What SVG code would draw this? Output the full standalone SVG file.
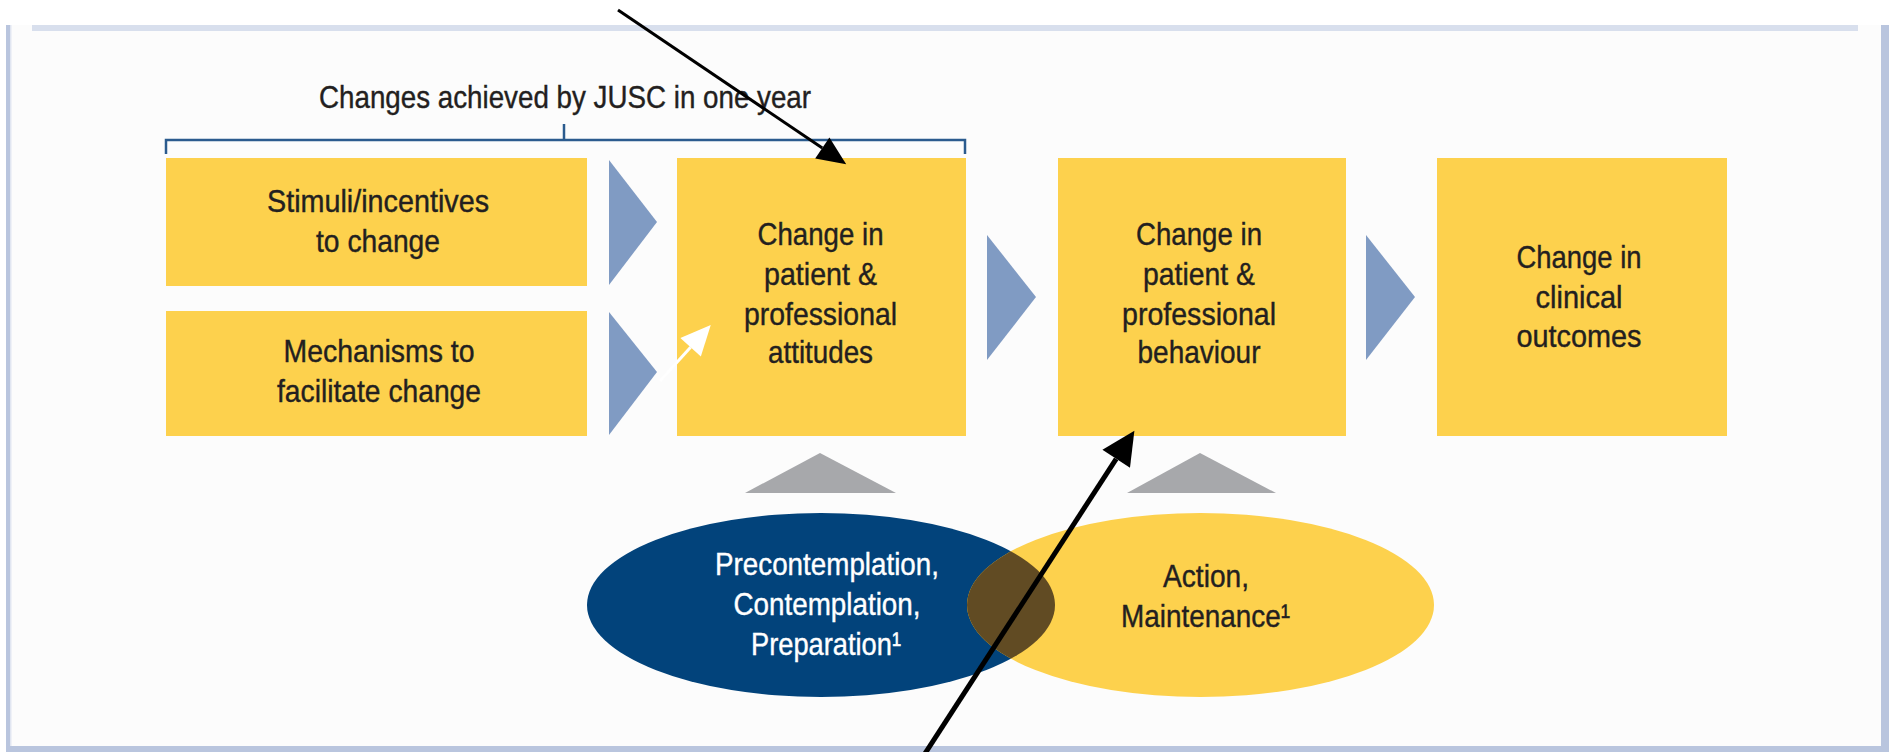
<svg xmlns="http://www.w3.org/2000/svg" width="1891" height="752" viewBox="0 0 1891 752">
  <style>
    .box { fill: #fdd14d; }
    .chev { fill: #809bc3; }
    .tri { fill: #a7a8ab; }
    .t { font-family: "Liberation Sans", Arial, sans-serif; font-size: 32px; fill: #231f20; stroke: #231f20; stroke-width: 0.4px; text-anchor: middle; }
    .tw { fill: #ffffff; stroke: #ffffff; }
    .ts { text-anchor: start; }
    .band { fill: #b9c5de; }
  </style>
  <defs>
    <marker id="headBlack1" markerUnits="userSpaceOnUse" markerWidth="30" markerHeight="30" refX="0" refY="0" viewBox="0 -12 26 24" orient="auto" overflow="visible">
      <path d="M0,-11 L25,0 L0,11 Z" fill="#000"/>
    </marker>
    <marker id="headBlack2" markerUnits="userSpaceOnUse" markerWidth="34" markerHeight="34" refX="0" refY="0" viewBox="0 -15 30 30" orient="auto" overflow="visible">
      <path d="M0,-14.5 L29.5,0 L0,14.5 Z" fill="#000"/>
    </marker>
    <marker id="headWhite" markerUnits="userSpaceOnUse" markerWidth="30" markerHeight="30" refX="0" refY="0" viewBox="0 -12 26 24" orient="auto" overflow="visible">
      <path d="M0,-12 L26,0 L0,12 Z" fill="#fff"/>
    </marker>
    <clipPath id="clipBlue">
      <ellipse cx="821" cy="605" rx="234" ry="92"/>
    </clipPath>
  </defs>

  <!-- frame -->
  <g id="frame">
    <rect x="0" y="0" width="1891" height="752" fill="#ffffff"/>
    <rect x="10" y="25" width="1871" height="721" fill="#fcfcfc"/>
    <rect x="32" y="25" width="1826" height="6" fill="#d8dfed"/>
    <rect class="band" x="6" y="25" width="4" height="727"/>
    <rect x="10" y="25" width="1.5" height="721" fill="#e1e6f1"/>
    <rect class="band" x="1881" y="25" width="8" height="727"/>
    <rect class="band" x="6" y="746" width="1883" height="6"/>
  </g>

  <!-- header bracket -->
  <g id="header">
    <path d="M166,154 V140 H965 V154 M564,124 V140" fill="none" stroke="#2b5b8e" stroke-width="2.5"/>
    <text class="t" x="565" y="108" textLength="492" lengthAdjust="spacingAndGlyphs">Changes achieved by JUSC in one year</text>
  </g>

  <g id="box-stimuli">
    <rect class="box" x="166" y="158" width="421" height="128"/>
    <text class="t" x="378" y="212" textLength="222" lengthAdjust="spacingAndGlyphs">Stimuli/incentives</text>
    <text class="t" x="378" y="252" textLength="124" lengthAdjust="spacingAndGlyphs">to change</text>
  </g>

  <g id="box-mechanisms">
    <rect class="box" x="166" y="311" width="421" height="125"/>
    <text class="t" x="379" y="362" textLength="191" lengthAdjust="spacingAndGlyphs">Mechanisms to</text>
    <text class="t" x="379" y="402" textLength="204" lengthAdjust="spacingAndGlyphs">facilitate change</text>
  </g>

  <g id="box-attitudes">
    <rect class="box" x="677" y="158" width="289" height="278"/>
    <text class="t" x="820.5" y="245" textLength="126" lengthAdjust="spacingAndGlyphs">Change in</text>
    <text class="t" x="820.5" y="285" textLength="113" lengthAdjust="spacingAndGlyphs">patient &amp;</text>
    <text class="t" x="820.5" y="325" textLength="153" lengthAdjust="spacingAndGlyphs">professional</text>
    <text class="t" x="820.5" y="363" textLength="105" lengthAdjust="spacingAndGlyphs">attitudes</text>
  </g>

  <g id="box-behaviour">
    <rect class="box" x="1058" y="158" width="288" height="278"/>
    <text class="t" x="1199" y="245" textLength="126" lengthAdjust="spacingAndGlyphs">Change in</text>
    <text class="t" x="1199" y="285" textLength="112" lengthAdjust="spacingAndGlyphs">patient &amp;</text>
    <text class="t" x="1199" y="325" textLength="154" lengthAdjust="spacingAndGlyphs">professional</text>
    <text class="t" x="1199" y="363" textLength="123" lengthAdjust="spacingAndGlyphs">behaviour</text>
  </g>

  <g id="box-outcomes">
    <rect class="box" x="1437" y="158" width="290" height="278"/>
    <text class="t" x="1579" y="268" textLength="125" lengthAdjust="spacingAndGlyphs">Change in</text>
    <text class="t" x="1579" y="308" textLength="87" lengthAdjust="spacingAndGlyphs">clinical</text>
    <text class="t" x="1579" y="347" textLength="125" lengthAdjust="spacingAndGlyphs">outcomes</text>
  </g>

  <g id="ellipse-precontemplation">
    <ellipse cx="821" cy="605" rx="234" ry="92" fill="#02437b"/>
    <text class="t tw" x="827" y="575" textLength="224" lengthAdjust="spacingAndGlyphs">Precontemplation,</text>
    <text class="t tw" x="827" y="615" textLength="187" lengthAdjust="spacingAndGlyphs">Contemplation,</text>
    <text class="t tw" x="826" y="655" textLength="150" lengthAdjust="spacingAndGlyphs">Preparation¹</text>
  </g>

  <g id="ellipse-action">
    <ellipse cx="1200.5" cy="605" rx="233.5" ry="92" fill="#fdd14d"/>
    <ellipse cx="1200.5" cy="605" rx="233.5" ry="92" fill="#614b23" clip-path="url(#clipBlue)"/>
    <text class="t" x="1206" y="587" textLength="86" lengthAdjust="spacingAndGlyphs">Action,</text>
    <text class="t" x="1205.5" y="627" textLength="169" lengthAdjust="spacingAndGlyphs">Maintenance¹</text>
  </g>

  <g id="connectors">
    <polygon class="chev" points="609,160 657,222 609,285"/>
    <polygon class="chev" points="609,312 657,372 609,435"/>
    <polygon class="chev" points="987,235 1036,297 987,360"/>
    <polygon class="chev" points="1366,235 1415,297 1366,360"/>
    <polygon class="tri" points="745,493 820,453 896,493"/>
    <polygon class="tri" points="1127,493 1200,453 1276,493"/>
    <line x1="660" y1="381" x2="690.6" y2="347.3" stroke="#fff" stroke-width="3" marker-end="url(#headWhite)"/>
    <line x1="618" y1="10" x2="822.3" y2="148" stroke="#000" stroke-width="3" marker-end="url(#headBlack1)"/>
    <line x1="920.8" y1="760" x2="1116.2" y2="458.8" stroke="#000" stroke-width="5" marker-end="url(#headBlack2)"/>
  </g>
</svg>
